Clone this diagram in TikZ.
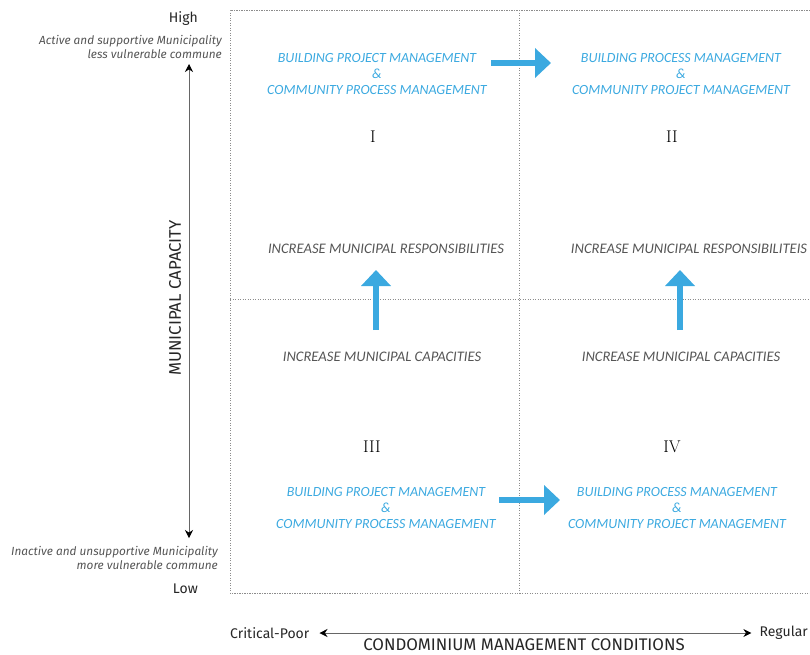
\documentclass[tikz,border=0pt]{standalone}
\usepackage{fontspec}
\newfontfamily\labfont{Fira Sans}
\newfontfamily\blufont{Carlito}
\usetikzlibrary{positioning,arrows.meta}
\definecolor{skyblue}{HTML}{3BA9E0}
\definecolor{inkgrey}{HTML}{555555}
\definecolor{gridgrey}{HTML}{8C8C8C}
\newcommand{\fsz}[2]{\fontsize{#1}{#2}\selectfont}

\begin{document}
\begin{tikzpicture}[x=1pt, y=-1pt,
  gridline/.style={draw=gridgrey, line width=0.8pt, dash pattern=on 1.2pt off 1.3pt},
  mgmt/.style={font=\blufont\itshape\fsz{14}{16}, text=skyblue, align=center, inner sep=0pt},
  task/.style={font=\blufont\itshape\fsz{14.6}{16}, text=inkgrey, inner sep=0pt},
  quad/.style={font=\fsz{17}{17}, inner sep=0pt},
  axislab/.style={font=\labfont\fsz{14}{15}, text=black!85, inner sep=0pt},
  axistitle/.style={axislab, font=\labfont\fsz{16.8}{18}},
  note/.style={font=\labfont\itshape\fsz{11.8}{14}, text=inkgrey, align=right, inner sep=0pt},
  shiftarrow/.style={draw=skyblue, line width=6pt, -{Triangle[length=16pt, width=29pt]}},
  axisarrow/.style={draw=black!60, line width=0.8pt,
    {Stealth[length=8pt, width=8pt, black]}-{Stealth[length=8pt, width=8pt, black]}}]
\useasboundingbox (0,0) rectangle (810,654);

% quadrant grid
\draw[gridline] (810,10) -- (230,10) -- (230,593) -- (810,593);
\draw[gridline] (519,10) -- (519,593);
\draw[gridline] (230,299) -- (810,299);

% vertical axis
\node[axislab, anchor=east] (high) at (198,19) {High};
\node[note, anchor=east] (actnote) at (222,47) {Active and supportive Municipality\\less vulnerable commune};
\node[note, anchor=east] (inactnote) at (218,558) {Inactive and unsupportive Municipality\\more vulnerable commune};
\node[axislab, anchor=east] (low) at (198,589) {Low};
\coordinate (captop) at (189,64);
\coordinate (capbot) at (189,538);
\draw[axisarrow] (captop) -- (capbot);
\node[axistitle, rotate=90] (mcap) at (175,298) {MUNICIPAL CAPACITY};

% horizontal axis
\node[axislab, anchor=west] (poor) at (230,633) {Critical-Poor};
\node[axislab, anchor=east] (reg) at (808,633) {Regular};
\draw[axisarrow] ([xshift=10pt]poor.east) -- ([xshift=-8pt]reg.west);
\node[axistitle] (cmc) at (524,645) {CONDOMINIUM MANAGEMENT CONDITIONS};

% quadrant contents
\node[mgmt] (mgmtI) at (377,74) {BUILDING PROJECT MANAGEMENT\\\&\\COMMUNITY PROCESS MANAGEMENT};
\node[mgmt] (mgmtII) at (681,74) {BUILDING PROCESS MANAGEMENT\\\&\\COMMUNITY PROJECT MANAGEMENT};
\node[mgmt] (mgmtIII) at (386,508) {BUILDING PROJECT MANAGEMENT\\\&\\COMMUNITY PROCESS MANAGEMENT};
\node[mgmt] (mgmtIV) at (677,508) {BUILDING PROCESS MANAGEMENT\\\&\\COMMUNITY PROJECT MANAGEMENT};

\node[quad] (qI) at (373,137) {I};
\node[quad] (qII) at (672,137) {II};
\node[quad] (qIII) at (372,447) {III};
\node[quad] (qIV) at (672,447) {IV};

\node[task] (respI) at (386,249) {INCREASE MUNICIPAL RESPONSIBILITIES};
\node[task] (respII) at (689,249) {INCREASE MUNICIPAL RESPONSIBILITEIS};
\node[task] (capIII) at (382,357) {INCREASE MUNICIPAL CAPACITIES};
\node[task] (capIV) at (681,357) {INCREASE MUNICIPAL CAPACITIES};

% shifts between quadrants
\coordinate (topfrom) at (491,63);
\coordinate (topto) at (551,63);
\coordinate (botfrom) at (499,500);
\coordinate (botto) at (560,500);
\coordinate (leftfrom) at (376,330);
\coordinate (leftto) at (376,270);
\coordinate (rightfrom) at (680,330);
\coordinate (rightto) at (680,270);
\draw[shiftarrow] (topfrom) -- (topto);
\draw[shiftarrow] (botfrom) -- (botto);
\draw[shiftarrow] (leftfrom) -- (leftto);
\draw[shiftarrow] (rightfrom) -- (rightto);
\end{tikzpicture}
\end{document}
